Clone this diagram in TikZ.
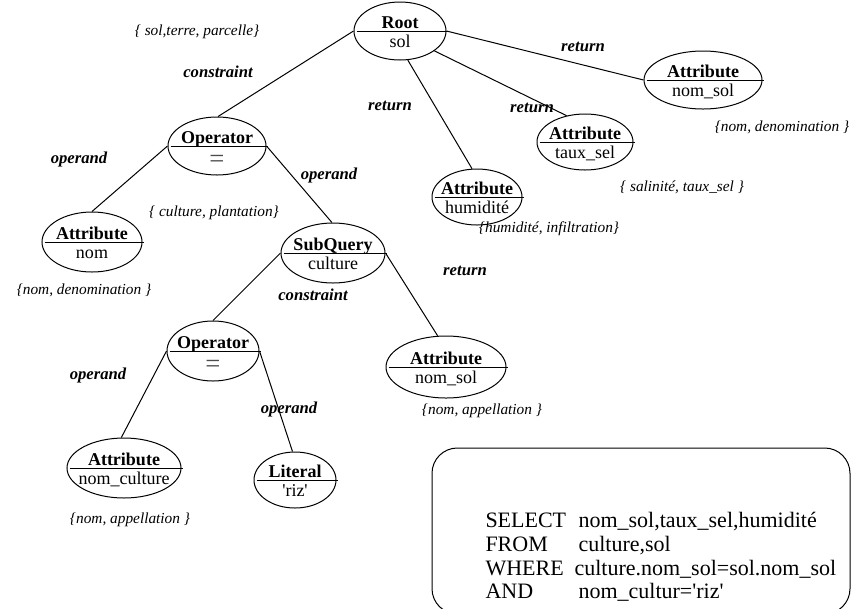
\documentclass[tikz,border=0pt]{standalone}
\usepackage{fontspec}
\setmainfont{Liberation Serif}[Ligatures=TeXOff]
\usetikzlibrary{shapes.geometric}
\newcommand\divider[1]{\draw ([xshift=2.25pt]#1.west) -- ([xshift=0.75pt]#1.east);}
\begin{document}
\begin{tikzpicture}[x=0.75pt,y=-0.75pt,line width=0.75pt,
  qell/.style={draw, ellipse, inner sep=0pt},
  qsize/.style 2 args={minimum width=#1*0.75pt, minimum height=#2*0.75pt},
  kind/.style={anchor=base, inner sep=0pt, font=\fontsize{13.5}{15}\selectfont\bfseries},
  val/.style={anchor=base, inner sep=0pt, font=\fontsize{13.5}{15}\selectfont},
  eqsign/.style={anchor=base, inner sep=0pt, text=black!70, font=\fontsize{20}{20}\selectfont},
  role/.style={inner sep=0pt, font=\fontsize{12.5}{14}\selectfont\bfseries\itshape},
  syn/.style={inner sep=0pt, font=\fontsize{11.5}{13}\selectfont\itshape},
  sql/.style={anchor=base west, inner sep=0pt, font=\fontsize{16.5}{19}\selectfont},
  link/.style={draw}
]
\clip (0,0) rectangle (860,608);

% query tree nodes
\node[qell, qsize={92}{58}] (root) at (400,31) {};
\node[kind] (root-k) at ([yshift=2.25pt]root.center) {Root};
\node[val]  (root-v) at ([yshift=-12.5pt]root.center) {sol};
\divider{root}

\node[qell, qsize={98}{58}] (op1) at (217,146) {};
\node[kind] (op1-k) at ([yshift=2.25pt]op1.center) {Operator};
\node[eqsign] (op1-v) at ([yshift=-16pt]op1.center) {=};
\divider{op1}

\node[qell, qsize={100}{60}] (attnom) at (92,242) {};
\node[kind] (attnom-k) at ([yshift=2.25pt]attnom.center) {Attribute};
\node[val]  (attnom-v) at ([yshift=-12.5pt]attnom.center) {nom};
\divider{attnom}

\node[qell, qsize={104}{60}] (subq) at (333,253) {};
\node[kind] (subq-k) at ([yshift=2.25pt]subq.center) {SubQuery};
\node[val]  (subq-v) at ([yshift=-12.5pt]subq.center) {culture};
\divider{subq}

\node[qell, qsize={92}{60}] (op2) at (213,351) {};
\node[kind] (op2-k) at ([yshift=2.25pt]op2.center) {Operator};
\node[eqsign] (op2-v) at ([yshift=-16pt]op2.center) {=};
\divider{op2}

\node[qell, qsize={114}{60}] (attnc) at (124,468) {};
\node[kind] (attnc-k) at ([yshift=2.25pt]attnc.center) {Attribute};
\node[val]  (attnc-v) at ([yshift=-12.5pt]attnc.center) {nom\_culture};
\divider{attnc}

\node[qell, qsize={82}{56}] (lit) at (295,480) {};
\node[kind] (lit-k) at ([yshift=2.25pt]lit.center) {Literal};
\node[val]  (lit-v) at ([yshift=-12.5pt]lit.center) {'riz'};
\divider{lit}

\node[qell, qsize={120}{62}] (attmid) at (446,367) {};
\node[kind] (attmid-k) at ([yshift=2.25pt]attmid.center) {Attribute};
\node[val]  (attmid-v) at ([yshift=-12.5pt]attmid.center) {nom\_sol};
\divider{attmid}

\node[qell, qsize={90}{56}] (atthum) at (477,197) {};
\node[kind] (atthum-k) at ([yshift=2.25pt]atthum.center) {Attribute};
\node[val]  (atthum-v) at ([yshift=-12.5pt]atthum.center) {humidité};
\divider{atthum}

\node[qell, qsize={96}{56}] (atttx) at (585,142) {};
\node[kind] (atttx-k) at ([yshift=2.25pt]atttx.center) {Attribute};
\node[val]  (atttx-v) at ([yshift=-12.5pt]atttx.center) {taux\_sel};
\divider{atttx}

\node[qell, qsize={118}{58}] (attns) at (703,80) {};
\node[kind] (attns-k) at ([yshift=2.25pt]attns.center) {Attribute};
\node[val]  (attns-v) at ([yshift=-12.5pt]attns.center) {nom\_sol};
\divider{attns}

% connectors
\draw[link] (root.180) -- (op1.88);
\draw[link] (root.285) -- (atthum.100);
\draw[link] (root.330) -- (atttx.125);
\draw[link] (root.0) -- (attns.180);
\draw[link] (op1.180) -- (attnom.90);
\draw[link] (op1.0) -- (subq.92);
\draw[link] (subq.180) -- (op2.90);
\draw[link] (subq.0) -- (attmid.105);
\draw[link] (op2.180) -- (attnc.95);
\draw[link] (op2.0) -- (lit.95);

% roles on the connectors
\node[role] (r1) at (218,72) {constraint};
\node[role] (r2) at (390,106) {return};
\node[role] (r3) at (532,108) {return};
\node[role] (r4) at (583,47) {return};
\node[role] (r5) at (79,159) {operand};
\node[role] (r6) at (329,175) {operand};
\node[role] (r7) at (465,271) {return};
\node[role] (r8) at (313,295) {constraint};
\node[role] (r9) at (98,375) {operand};
\node[role] (r10) at (289,409) {operand};

% synonym sets
\node[syn] (s1) at (197,32) {\{ sol,terre, parcelle\}};
\node[syn] (s2) at (214,213) {\{ culture, plantation\}};
\node[syn] (s3) at (84,290) {\{nom, denomination \}};
\node[syn] (s4) at (549,229) {\{humidité, infiltration\}};
\node[syn] (s5) at (682,187) {\{ salinité, taux\_sel \}};
\node[syn] (s6) at (782,127) {\{nom, denomination \}};
\node[syn] (s7) at (482,411) {\{nom, appellation \}};
\node[syn] (s8) at (130,520) {\{nom, appellation \}};

% SQL query box
\draw[rounded corners=19pt] (432,448) rectangle (850,614);
\node[sql] (q1a) at (485,527) {SELECT};
\node[sql] (q1b) at (578,527) {nom\_sol,taux\_sel,humidité};
\node[sql] (q2a) at (485,551) {FROM};
\node[sql] (q2b) at (578,551) {culture,sol};
\node[sql] (q3a) at (485,575) {WHERE};
\node[sql] (q3b) at (574,575) {culture.nom\_sol=sol.nom\_sol};
\node[sql] (q4a) at (485,598) {AND};
\node[sql] (q4b) at (578,598) {nom\_cultur='riz'};
\end{tikzpicture}
\end{document}
